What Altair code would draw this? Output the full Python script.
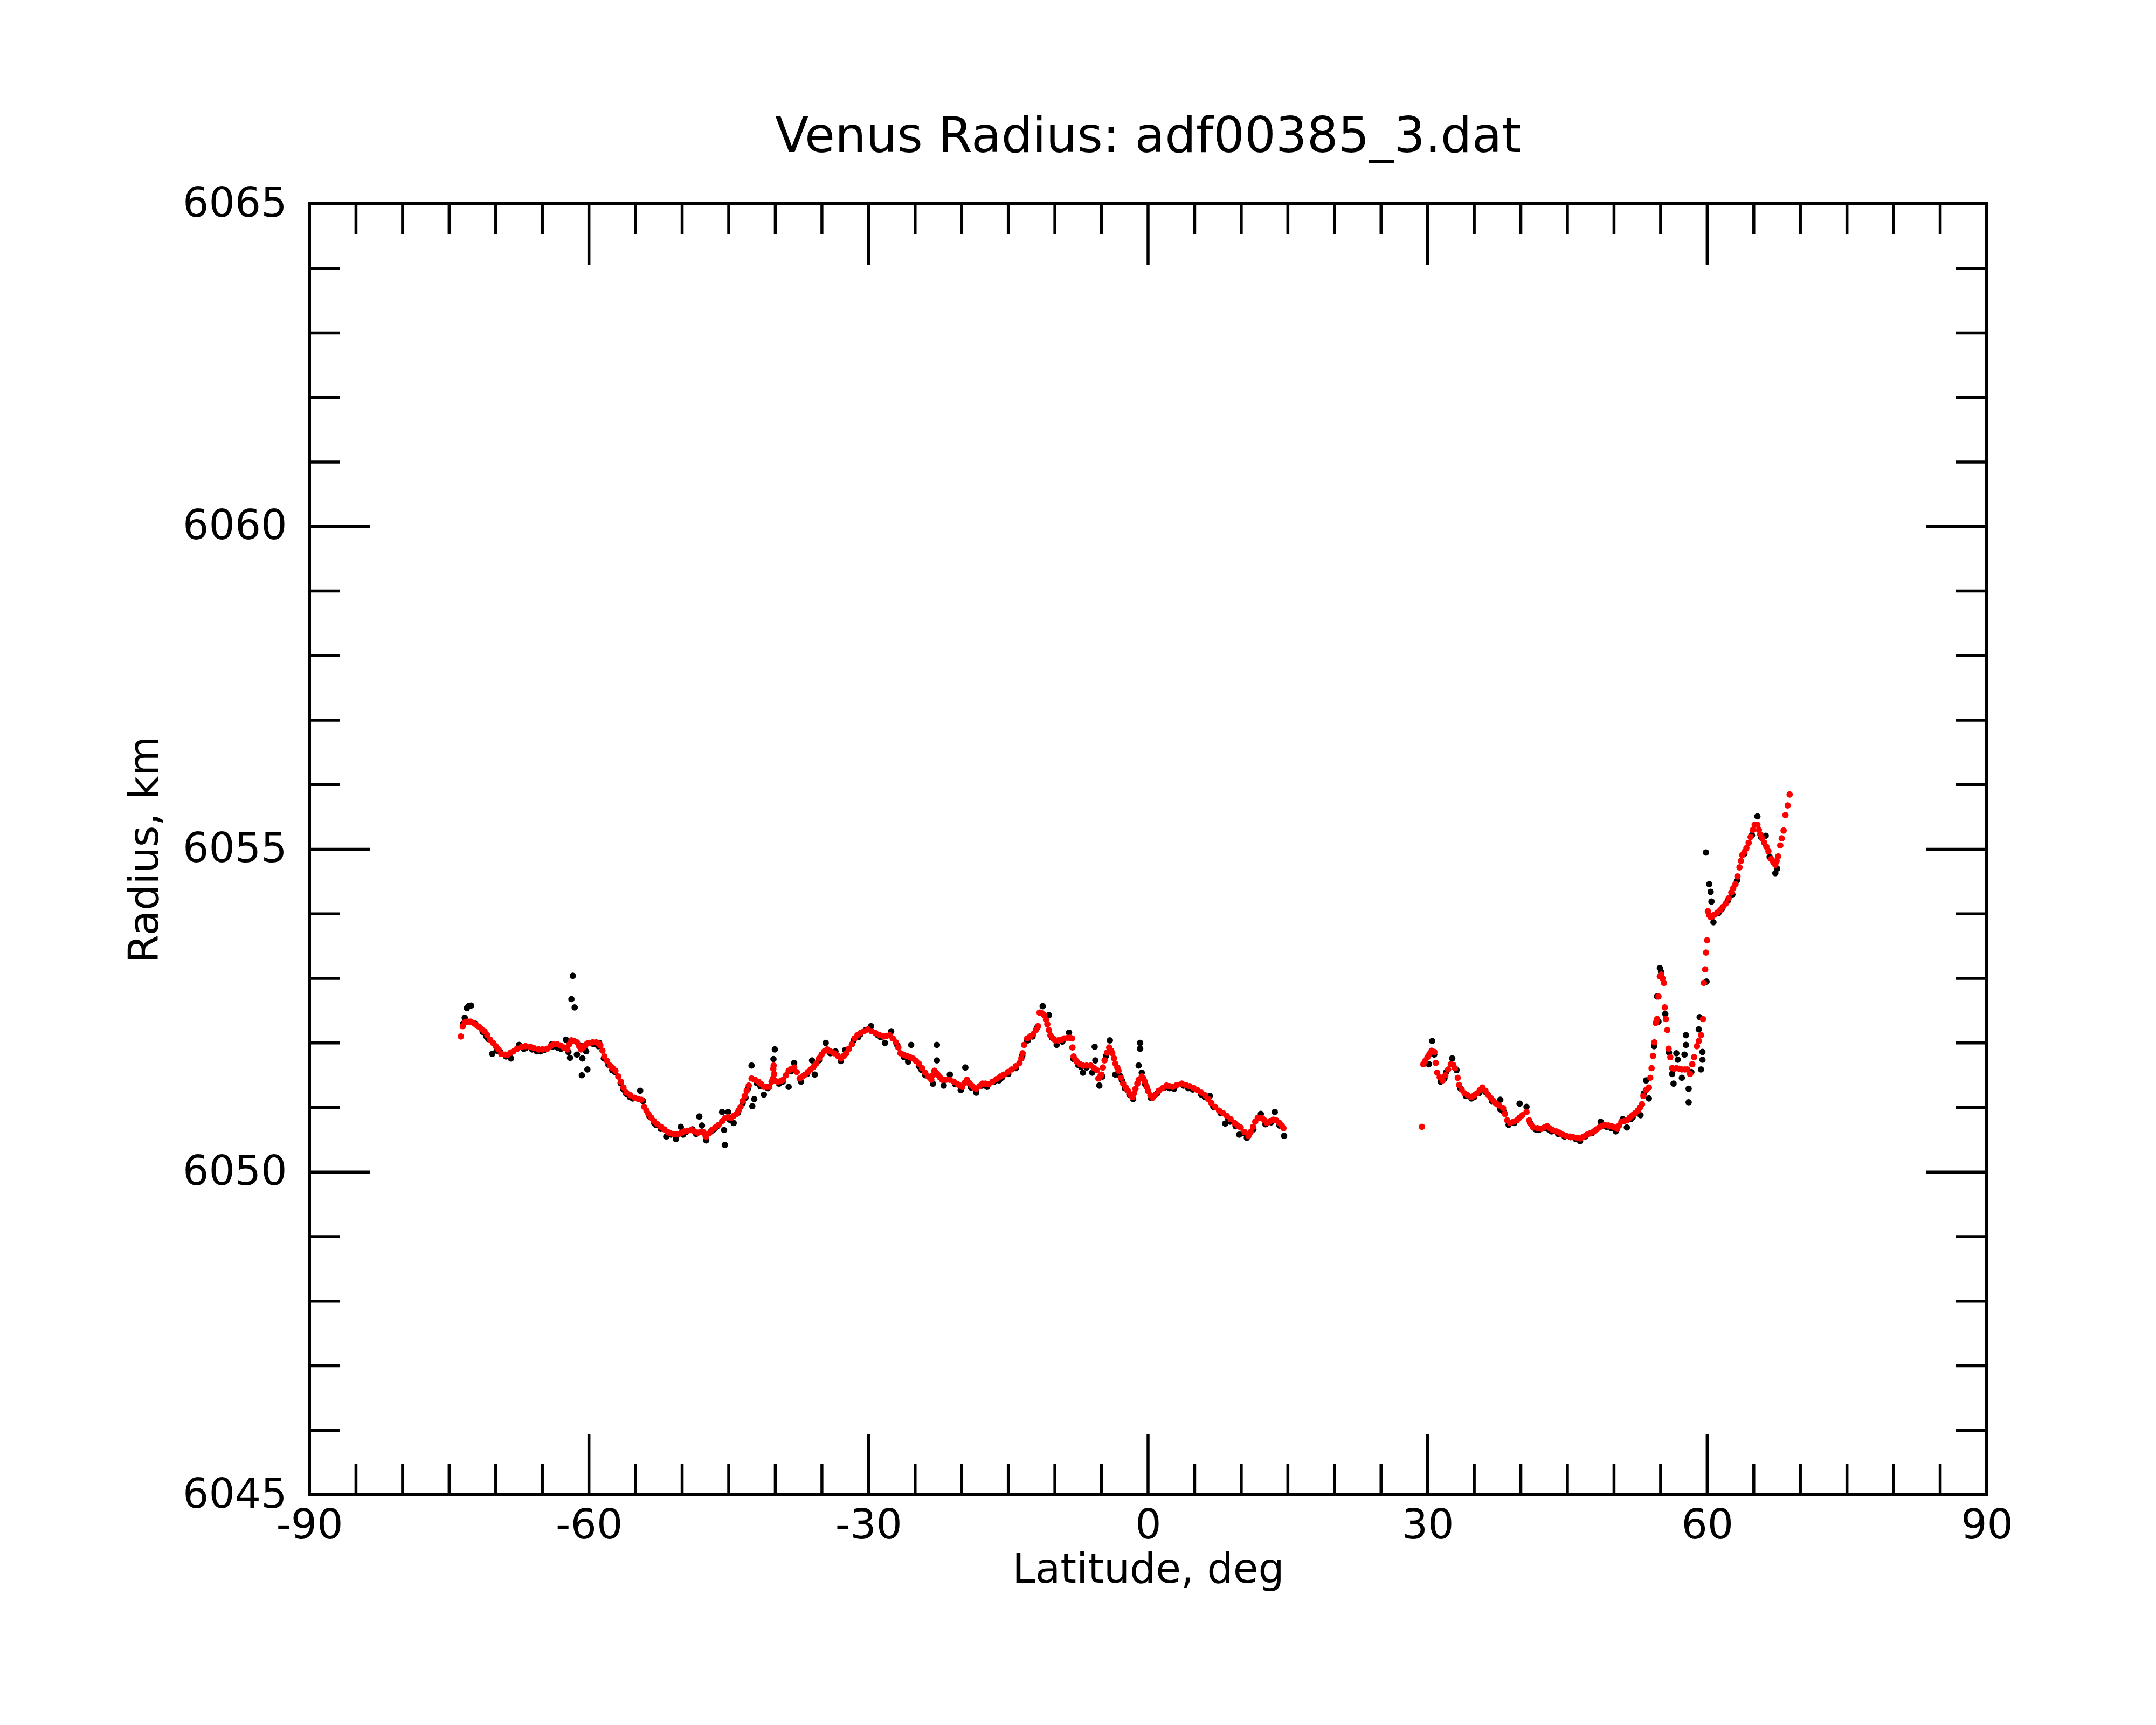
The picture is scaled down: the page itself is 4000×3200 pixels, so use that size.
import altair as alt
import pandas as pd

# ---- data: (latitude deg, radius km) ----
RED_SOUTH = [
    (-73.74, 6052.10), (-73.54, 6052.26), (-73.3, 6052.32), (-73.0, 6052.33), (-72.7, 6052.33),
    (-72.4, 6052.31), (-72.1, 6052.28), (-71.8, 6052.25), (-71.5, 6052.21), (-71.2, 6052.18),
    (-70.9, 6052.12), (-70.6, 6052.05), (-70.3, 6052.0), (-70.0, 6051.95), (-69.7, 6051.90),
    (-69.4, 6051.83), (-69.0, 6051.82), (-68.7, 6051.82), (-68.4, 6051.85), (-68.1, 6051.87),
    (-67.7, 6051.91), (-67.2, 6051.94), (-66.8, 6051.95), (-66.3, 6051.94), (-65.9, 6051.92),
    (-65.4, 6051.90), (-65.0, 6051.90), (-64.5, 6051.91), (-64.1, 6051.95), (-63.8, 6051.98),
    (-63.4, 6051.98), (-63.06, 6051.96), (-62.7, 6051.93), (-62.32, 6051.90), (-62.1, 6051.98),
    (-61.88, 6052.04), (-61.6, 6052.03), (-61.29, 6052.01), (-61.05, 6051.95), (-60.85, 6051.90),
    (-60.6, 6051.93), (-60.41, 6051.96), (-60.2, 6051.99), (-59.96, 6052.0), (-59.6, 6052.01),
    (-59.23, 6052.01), (-58.95, 6051.99), (-58.78, 6051.96), (-58.55, 6051.88), (-58.34, 6051.79),
    (-58.05, 6051.72), (-57.75, 6051.65), (-57.45, 6051.61), (-57.16, 6051.57), (-56.85, 6051.48),
    (-56.57, 6051.40), (-56.3, 6051.31), (-55.98, 6051.23), (-55.55, 6051.19), (-55.09, 6051.15),
    (-54.7, 6051.13), (-54.36, 6051.12), (-54.06, 6051.01), (-53.82, 6050.95), (-53.62, 6050.90),
    (-53.3, 6050.84), (-53.03, 6050.79), (-52.65, 6050.74), (-52.29, 6050.70), (-51.9, 6050.66),
    (-51.55, 6050.62), (-51.25, 6050.60), (-50.96, 6050.59), (-50.67, 6050.59), (-50.37, 6050.59),
    (-50.07, 6050.61), (-49.78, 6050.63), (-49.4, 6050.64), (-49.04, 6050.65), (-48.7, 6050.63),
    (-48.31, 6050.61), (-48.0, 6050.62), (-47.72, 6050.62), (-47.55, 6050.58), (-47.42, 6050.55),
    (-47.1, 6050.60), (-46.83, 6050.65), (-46.45, 6050.69), (-46.09, 6050.73), (-45.7, 6050.79),
    (-45.36, 6050.84), (-45.05, 6050.85), (-44.77, 6050.84), (-44.48, 6050.87), (-44.18, 6050.90),
    (-43.95, 6050.95), (-43.73, 6051.01), (-43.5, 6051.10), (-43.29, 6051.18), (-43.07, 6051.26),
    (-42.85, 6051.34), (-42.55, 6051.45), (-42.2, 6051.43), (-41.82, 6051.40), (-41.5, 6051.36),
    (-41.23, 6051.32), (-40.9, 6051.32), (-40.64, 6051.32), (-40.4, 6051.40), (-40.25, 6051.45),
    (-40.22, 6051.60), (-40.18, 6051.65), (-40.12, 6051.52), (-40.05, 6051.42), (-39.75, 6051.40),
    (-39.45, 6051.41), (-39.16, 6051.43), (-38.85, 6051.50), (-38.57, 6051.57), (-38.27, 6051.60),
    (-37.98, 6051.62), (-37.7, 6051.55), (-37.39, 6051.45), (-37.1, 6051.48), (-36.8, 6051.51),
    (-36.5, 6051.55), (-36.21, 6051.59), (-35.9, 6051.63), (-35.62, 6051.68), (-35.3, 6051.76),
    (-35.03, 6051.82), (-34.75, 6051.87), (-34.44, 6051.90), (-34.1, 6051.87), (-33.70, 6051.84),
    (-33.3, 6051.80), (-32.97, 6051.76), (-32.65, 6051.80), (-32.37, 6051.84), (-32.1, 6051.91),
    (-31.78, 6051.98), (-31.5, 6052.07), (-31.2, 6052.12), (-30.9, 6052.15), (-30.5, 6052.18),
    (-30.06, 6052.21), (-29.65, 6052.18), (-29.23, 6052.15), (-28.8, 6052.12), (-28.4, 6052.10),
    (-28.05, 6052.11), (-27.74, 6052.12), (-27.4, 6052.07), (-27.08, 6052.01), (-26.8, 6051.93),
    (-26.58, 6051.84), (-26.25, 6051.82), (-25.91, 6051.80), (-25.55, 6051.78), (-25.25, 6051.76),
    (-24.9, 6051.72), (-24.59, 6051.68), (-24.25, 6051.61), (-23.92, 6051.54), (-23.6, 6051.48),
    (-23.26, 6051.43), (-23.1, 6051.50), (-22.93, 6051.57), (-22.75, 6051.54), (-22.59, 6051.51),
    (-22.35, 6051.47), (-22.1, 6051.43), (-21.7, 6051.43), (-21.27, 6051.43), (-20.85, 6051.40),
    (-20.44, 6051.36), (-20.2, 6051.34), (-19.94, 6051.32), (-19.7, 6051.38), (-19.44, 6051.43),
    (-19.2, 6051.38), (-18.94, 6051.34), (-18.7, 6051.31), (-18.44, 6051.29), (-18.1, 6051.33),
    (-17.78, 6051.37), (-17.45, 6051.37), (-17.12, 6051.36), (-16.7, 6051.40), (-16.28, 6051.44),
    (-15.87, 6051.48), (-15.46, 6051.51), (-15.05, 6051.55), (-14.63, 6051.59), (-14.2, 6051.64),
    (-13.8, 6051.69), (-13.6, 6051.76), (-13.46, 6051.84), (-13.3, 6051.97), (-12.97, 6052.07),
    (-12.65, 6052.10), (-12.3, 6052.14), (-12.05, 6052.20), (-11.81, 6052.26), (-11.64, 6052.47),
    (-11.4, 6052.46), (-11.14, 6052.43), (-10.95, 6052.36), (-10.81, 6052.29), (-10.65, 6052.20),
    (-10.48, 6052.12), (-10.2, 6052.07), (-9.98, 6052.04), (-9.65, 6052.04), (-9.32, 6052.05),
    (-9.0, 6052.07), (-8.65, 6052.08), (-8.4, 6052.08), (-8.15, 6052.07), (-8.12, 6051.93),
    (-7.99, 6051.79), (-7.8, 6051.74), (-7.66, 6051.71), (-7.3, 6051.67), (-6.99, 6051.65),
    (-6.6, 6051.65), (-6.16, 6051.65), (-5.8, 6051.61), (-5.5, 6051.58), (-5.33, 6051.45),
    (-5.15, 6051.48), (-5.0, 6051.51), (-4.85, 6051.62), (-4.67, 6051.73), (-4.4, 6051.85),
    (-4.17, 6051.93), (-3.95, 6051.88), (-3.84, 6051.84), (-3.65, 6051.76), (-3.51, 6051.68),
    (-3.3, 6051.62), (-3.17, 6051.57), (-2.9, 6051.46), (-2.67, 6051.37), (-2.4, 6051.31),
    (-2.18, 6051.26), (-1.9, 6051.20), (-1.68, 6051.16), (-1.5, 6051.22), (-1.35, 6051.29),
    (-1.15, 6051.37), (-1.01, 6051.43), (-0.68, 6051.48), (-0.5, 6051.45), (-0.35, 6051.40),
    (-0.15, 6051.32), (-0.02, 6051.26), (0.25, 6051.19), (0.48, 6051.15), (0.8, 6051.20),
    (1.14, 6051.26), (1.55, 6051.30), (1.98, 6051.34), (2.3, 6051.33), (2.64, 6051.32),
    (3.1, 6051.35), (3.63, 6051.37), (4.05, 6051.35), (4.46, 6051.33), (4.9, 6051.30),
    (5.29, 6051.27), (5.7, 6051.23), (6.12, 6051.19), (6.45, 6051.13), (6.79, 6051.07),
    (7.2, 6051.01), (7.62, 6050.95), (8.05, 6050.91), (8.45, 6050.87), (8.85, 6050.82),
    (9.28, 6050.76), (9.6, 6050.72), (9.94, 6050.69), (10.35, 6050.62), (10.77, 6050.56),
    (11.0, 6050.62), (11.27, 6050.70), (11.5, 6050.78), (11.77, 6050.84), (12.0, 6050.84),
    (12.27, 6050.83), (12.5, 6050.80), (12.77, 6050.76), (13.1, 6050.79), (13.43, 6050.81),
    (13.75, 6050.80), (14.1, 6050.76), (14.35, 6050.72), (14.53, 6050.68),
]

RED_NORTH = [
    (29.39, 6050.70), (29.54, 6051.67), (29.75, 6051.72), (29.98, 6051.78), (30.2, 6051.83),
    (30.43, 6051.88), (30.72, 6051.86), (30.87, 6051.69), (31.02, 6051.54), (31.3, 6051.47),
    (31.61, 6051.42), (31.9, 6051.50), (32.2, 6051.59), (32.49, 6051.67), (32.75, 6051.66),
    (32.93, 6051.61), (33.23, 6051.46), (33.38, 6051.35), (33.65, 6051.28), (33.97, 6051.22),
    (34.3, 6051.19), (34.7, 6051.16), (35.0, 6051.19), (35.29, 6051.22), (35.6, 6051.27),
    (35.88, 6051.31), (36.2, 6051.26), (36.47, 6051.20), (36.75, 6051.15), (37.07, 6051.10),
    (37.35, 6051.06), (37.66, 6051.03), (38.1, 6050.99), (38.3, 6050.90), (38.54, 6050.80),
    (38.84, 6050.76), (39.2, 6050.78), (39.57, 6050.80), (39.85, 6050.84), (40.16, 6050.88),
    (40.61, 6050.93), (40.9, 6050.80), (41.1, 6050.74), (41.34, 6050.69), (41.8, 6050.68),
    (42.23, 6050.67), (42.5, 6050.69), (42.82, 6050.71), (43.1, 6050.68), (43.41, 6050.65),
    (43.8, 6050.63), (44.15, 6050.61), (44.5, 6050.58), (44.88, 6050.56), (45.25, 6050.55),
    (45.62, 6050.54), (46.0, 6050.53), (46.36, 6050.52), (46.75, 6050.55), (47.1, 6050.58),
    (47.45, 6050.60), (47.84, 6050.63), (48.12, 6050.66), (48.42, 6050.69), (48.7, 6050.71),
    (49.01, 6050.73), (49.4, 6050.72), (49.75, 6050.71), (50.05, 6050.69), (50.34, 6050.67),
    (50.55, 6050.72), (50.79, 6050.78), (51.1, 6050.79), (51.38, 6050.80), (51.67, 6050.84),
    (51.97, 6050.88), (52.25, 6050.91), (52.56, 6050.95), (52.8, 6051.0), (53.0, 6051.05),
    (53.15, 6051.18), (53.44, 6051.27), (53.74, 6051.31), (53.89, 6051.46), (54.03, 6051.61),
    (54.18, 6051.80), (54.33, 6052.01), (54.47, 6052.31), (54.62, 6052.37), (54.77, 6052.72),
    (54.92, 6053.03), (55.07, 6053.06), (55.2, 6053.0), (55.36, 6052.93), (55.45, 6052.55),
    (55.57, 6052.37), (55.71, 6052.20), (55.86, 6051.91), (56.04, 6051.78), (56.24, 6051.61),
    (56.45, 6051.60), (56.69, 6051.61), (57.0, 6051.60), (57.28, 6051.59), (57.6, 6051.59),
    (57.87, 6051.59), (58.16, 6051.52), (58.4, 6051.67), (58.6, 6051.78), (58.9, 6051.95),
    (59.1, 6052.03), (59.34, 6052.12), (59.55, 6052.37), (59.64, 6052.93), (59.78, 6053.14),
    (59.87, 6053.40), (59.99, 6053.59), (60.08, 6054.04), (60.2, 6053.98), (60.37, 6053.95),
    (60.6, 6053.97), (60.82, 6053.99), (61.1, 6054.02), (61.41, 6054.06), (61.7, 6054.11),
    (62.0, 6054.16), (62.3, 6054.24), (62.59, 6054.33), (62.8, 6054.40), (63.03, 6054.46),
    (63.25, 6054.58), (63.47, 6054.72), (63.62, 6054.82), (63.77, 6054.91), (64.0, 6054.96),
    (64.21, 6055.02), (64.45, 6055.10), (64.66, 6055.19), (64.9, 6055.30), (65.1, 6055.38),
    (65.39, 6055.38), (65.55, 6055.30), (65.69, 6055.23), (65.9, 6055.17), (66.13, 6055.10),
    (66.35, 6055.04), (66.57, 6054.97), (66.87, 6054.85), (67.1, 6054.80), (67.31, 6054.76),
    (67.45, 6054.82), (67.61, 6054.89), (67.84, 6055.06), (68.0, 6055.17), (68.2, 6055.29),
    (68.4, 6055.53), (68.64, 6055.68), (68.85, 6055.85),
]

BLACK_SOUTH = [
    (-73.5, 6052.30), (-73.33, 6052.39), (-73.1, 6052.54), (-72.9, 6052.57), (-72.65, 6052.58),
    (-72.2, 6052.30), (-71.4, 6052.17), (-70.8, 6052.06), (-70.38, 6051.83), (-69.5, 6051.86),
    (-68.9, 6051.79), (-68.37, 6051.76), (-67.5, 6051.97), (-66.8, 6051.92), (-65.6, 6051.87),
    (-64.8, 6051.89), (-64.0, 6051.98), (-63.3, 6051.92), (-62.47, 6052.05), (-62.2, 6051.86),
    (-62.03, 6051.77), (-61.88, 6052.68), (-61.73, 6053.04), (-61.53, 6052.55), (-61.29, 6051.82),
    (-60.95, 6051.96), (-60.76, 6051.50), (-60.7, 6051.76), (-60.17, 6051.59), (-60.3, 6051.87),
    (-59.5, 6051.98), (-58.9, 6052.0), (-58.4, 6051.76), (-57.9, 6051.66), (-57.2, 6051.55),
    (-56.6, 6051.38), (-56.0, 6051.21), (-55.3, 6051.14), (-54.5, 6051.26), (-54.2, 6051.10),
    (-53.5, 6050.86), (-52.8, 6050.73), (-51.7, 6050.55), (-51.2, 6050.58), (-50.67, 6050.51),
    (-50.14, 6050.70), (-49.6, 6050.62), (-48.9, 6050.66), (-48.16, 6050.86), (-47.87, 6050.72),
    (-47.42, 6050.49), (-46.9, 6050.63), (-46.3, 6050.70), (-45.71, 6050.93), (-45.5, 6050.65),
    (-45.42, 6050.42), (-45.06, 6050.93), (-44.47, 6050.76), (-44.0, 6050.92), (-43.5, 6051.07),
    (-42.9, 6051.30), (-42.55, 6051.65), (-42.47, 6051.02), (-42.26, 6051.13), (-42.0, 6051.38),
    (-41.23, 6051.20), (-40.8, 6051.30), (-40.2, 6051.75), (-40.05, 6051.90), (-39.6, 6051.37),
    (-38.57, 6051.32), (-38.3, 6051.56), (-37.98, 6051.69), (-37.24, 6051.40), (-36.06, 6051.73),
    (-35.77, 6051.51), (-35.3, 6051.73), (-34.59, 6052.00), (-33.55, 6051.87), (-32.97, 6051.72),
    (-32.52, 6051.89), (-31.6, 6052.04), (-30.9, 6052.13), (-30.3, 6052.20), (-29.73, 6052.26),
    (-29.0, 6052.12), (-28.24, 6052.00), (-27.57, 6052.18), (-26.9, 6051.96), (-26.2, 6051.78),
    (-25.75, 6051.71), (-25.42, 6051.97), (-24.6, 6051.64), (-23.9, 6051.50), (-23.09, 6051.37),
    (-22.66, 6051.97), (-22.66, 6051.73), (-21.93, 6051.34), (-21.27, 6051.51), (-20.7, 6051.36),
    (-20.1, 6051.27), (-19.61, 6051.62), (-19.0, 6051.31), (-18.44, 6051.23), (-17.28, 6051.32),
    (-16.5, 6051.40), (-15.7, 6051.46), (-15.0, 6051.52), (-14.2, 6051.61), (-13.5, 6051.80),
    (-13.0, 6052.04), (-12.4, 6052.10), (-11.9, 6052.24), (-11.31, 6052.57), (-10.64, 6052.43),
    (-10.3, 6052.08), (-9.81, 6051.97), (-9.2, 6052.02), (-8.48, 6052.16), (-8.0, 6051.75),
    (-7.5, 6051.66), (-6.99, 6051.54), (-6.6, 6051.62), (-6.0, 6051.54), (-5.73, 6051.94),
    (-5.66, 6051.73), (-5.23, 6051.34), (-4.9, 6051.48), (-4.5, 6051.80), (-4.1, 6052.04),
    (-3.51, 6051.51), (-3.0, 6051.49), (-2.5, 6051.30), (-2.0, 6051.20), (-1.6, 6051.13),
    (-1.01, 6051.65), (-0.85, 6052.00), (-0.85, 6051.91), (-0.68, 6051.54), (-0.3, 6051.36),
    (0.3, 6051.15), (1.0, 6051.22), (1.8, 6051.31), (2.8, 6051.29), (3.8, 6051.34),
    (4.8, 6051.28), (5.7, 6051.20), (6.62, 6051.18), (7.0, 6051.01), (7.8, 6050.91),
    (8.28, 6050.75), (8.8, 6050.78), (9.4, 6050.71), (9.78, 6050.58), (10.6, 6050.53),
    (11.3, 6050.66), (12.1, 6050.90), (12.6, 6050.74), (13.2, 6050.77), (13.6, 6050.93),
    (14.1, 6050.72), (14.6, 6050.56),
    # fringe just under / beside the smoothed curve
    (-71.0, 6052.10), (-69.9, 6051.88), (-67.0, 6051.91), (-66.1, 6051.90), (-65.2, 6051.87),
    (-63.9, 6051.94), (-63.0, 6051.91), (-59.0, 6051.95), (-57.5, 6051.58), (-56.3, 6051.28),
    (-55.6, 6051.16), (-53.0, 6050.76), (-52.3, 6050.67), (-49.9, 6050.58), (-48.5, 6050.59),
    (-46.6, 6050.66), (-44.9, 6050.81), (-43.2, 6051.15), (-41.6, 6051.33), (-39.2, 6051.40),
    (-36.6, 6051.52), (-34.1, 6051.84), (-31.1, 6052.09), (-28.7, 6052.09), (-24.3, 6051.58),
    (-17.8, 6051.34), (-16.0, 6051.42), (-12.9, 6052.04), (-7.2, 6051.63), (-2.8, 6051.42),
    (2.3, 6051.30), (4.3, 6051.30), (6.1, 6051.16), (8.6, 6050.82), (10.2, 6050.60),
]

BLACK_NORTH = [
    (29.7, 6051.70), (30.13, 6051.67), (30.49, 6052.03), (30.7, 6051.82), (31.4, 6051.40),
    (32.0, 6051.55), (32.64, 6051.76), (33.1, 6051.58), (33.5, 6051.30), (34.1, 6051.18),
    (34.7, 6051.14), (35.5, 6051.22), (36.2, 6051.24), (36.9, 6051.10), (37.8, 6051.12),
    (37.8, 6050.97), (38.69, 6050.73), (39.3, 6050.76), (39.87, 6051.06), (40.61, 6051.01),
    (41.0, 6050.76), (41.93, 6050.65), (42.6, 6050.68), (43.3, 6050.63), (44.0, 6050.59),
    (44.7, 6050.55), (45.33, 6050.54), (46.36, 6050.48), (46.9, 6050.55), (47.6, 6050.60),
    (48.57, 6050.78), (49.2, 6050.70), (50.19, 6050.63), (50.93, 6050.82), (51.38, 6050.69),
    (52.0, 6050.85), (52.85, 6050.88), (53.2, 6051.22), (53.44, 6051.42), (53.74, 6051.14),
    (54.3, 6051.95), (54.62, 6052.72), (54.77, 6052.33), (54.92, 6053.16), (55.05, 6053.10),
    (55.5, 6052.45), (55.9, 6051.85), (56.24, 6051.52), (56.39, 6051.37), (56.69, 6051.84),
    (56.84, 6051.74), (57.28, 6051.46), (57.57, 6051.82), (57.72, 6052.12), (57.72, 6051.97),
    (58.01, 6051.29), (58.01, 6051.08), (58.3, 6051.55), (59.1, 6052.21), (59.19, 6052.40),
    (59.34, 6051.59), (59.49, 6051.86), (59.49, 6051.74), (59.93, 6052.95), (59.87, 6054.95),
    (60.22, 6054.46), (60.37, 6054.34), (60.46, 6054.19), (60.67, 6053.87), (61.2, 6054.01),
    (62.2, 6054.20), (63.2, 6054.52), (64.0, 6054.93), (64.8, 6055.22), (65.39, 6055.51),
    (65.8, 6055.18), (66.28, 6055.21), (66.7, 6054.88), (67.31, 6054.63), (67.5, 6054.70),
    # fringe just under / beside the smoothed curve
    (31.8, 6051.45), (35.0, 6051.16), (38.2, 6050.93), (41.6, 6050.66), (43.0, 6050.66),
    (45.9, 6050.51), (49.7, 6050.68), (51.8, 6050.82), (61.6, 6054.08), (62.7, 6054.30),
]

X_MAJOR = [-90, -60, -30, 0, 30, 60, 90]
X_MINOR = [-85, -80, -75, -70, -65, -55, -50, -45, -40, -35, -25, -20, -15, -10, -5,
           5, 10, 15, 20, 25, 35, 40, 45, 50, 55, 65, 70, 75, 80, 85]
Y_MAJOR = [6045, 6050, 6055, 6060, 6065]
Y_MINOR = [6046, 6047, 6048, 6049, 6051, 6052, 6053, 6054, 6056, 6057, 6058, 6059,
           6061, 6062, 6063, 6064]

TITLE = "Venus Radius: adf00385_3.dat"
X_TITLE = "Latitude, deg"
Y_TITLE = "Radius, km"

# ---- layout / style ----
W, H = 3112, 2395
MAJ, MIN = 113, 57
FONT = "DejaVu Sans"
TICK_W = 5.5
DOT = 140

red_df = pd.DataFrame(RED_SOUTH + RED_NORTH, columns=["lat", "r"])
black_df = pd.DataFrame(BLACK_SOUTH + BLACK_NORTH, columns=["lat", "r"])

xscale = alt.Scale(domain=[-90, 90], nice=False, zero=False)
yscale = alt.Scale(domain=[6045, 6065], nice=False, zero=False)

xaxis = alt.Axis(values=X_MAJOR, labelExpr="'' + datum.value", title=X_TITLE, ticks=False,
                 domain=False, grid=False, labelFlush=False, labelOverlap=False, labelLimit=0,
                 labelPadding=20, labelFontSize=76, labelFont=FONT, labelColor="black",
                 titleFont=FONT, titleFontSize=76, titleFontWeight="normal", titleColor="black",
                 titleBaseline="alphabetic", titleAlign="center", titleX=W / 2, titleY=162)
yaxis = alt.Axis(values=Y_MAJOR, labelExpr="'' + datum.value", title=Y_TITLE, ticks=False,
                 domain=False, grid=False, labelFlush=False, labelOverlap=False, labelLimit=0,
                 labelPadding=42, labelFontSize=76, labelFont=FONT, labelColor="black",
                 titleFont=FONT, titleFontSize=76, titleFontWeight="normal", titleColor="black",
                 titleBaseline="alphabetic", titleAlign="center", titleAngle=270,
                 titleX=-282, titleY=H / 2)

X = alt.X("lat:Q", scale=xscale, axis=xaxis)
Y = alt.Y("r:Q", scale=yscale, axis=yaxis)

black = alt.Chart(black_df).mark_circle(size=DOT, color="black", opacity=1).encode(x=X, y=Y)
red = alt.Chart(red_df).mark_circle(size=DOT, color="#ff0000", opacity=1).encode(x=X, y=Y)

def xticks(vals, length):
    df = pd.DataFrame({"lat": vals})
    base = alt.Chart(df).mark_rule(color="black", strokeWidth=TICK_W)
    return [
        base.encode(x=X, y=alt.value(H), y2=alt.value(H - length)),
        base.encode(x=X, y=alt.value(0), y2=alt.value(length)),
    ]

def yticks(vals, length):
    df = pd.DataFrame({"r": vals})
    base = alt.Chart(df).mark_rule(color="black", strokeWidth=TICK_W)
    return [
        base.encode(y=Y, x=alt.value(0), x2=alt.value(length)),
        base.encode(y=Y, x=alt.value(W), x2=alt.value(W - length)),
    ]

layers = [black, red] + xticks(X_MAJOR, MAJ) + xticks(X_MINOR, MIN) + yticks(Y_MAJOR, MAJ) + yticks(Y_MINOR, MIN)

chart = alt.layer(*layers).properties(
    width=W,
    height=H,
    title=alt.TitleParams(text=TITLE, font=FONT, fontSize=91, fontWeight="normal", color="black",
                          anchor="middle", frame="group", baseline="alphabetic", offset=-33),
    autosize=alt.AutoSizeParams(type="none"),
    padding={"left": 566, "top": 370, "right": 306, "bottom": 419},
    background="white",
).configure_view(stroke="black", strokeWidth=6)

chart.save("out.html", embed_options={"renderer": "svg", "actions": False})
